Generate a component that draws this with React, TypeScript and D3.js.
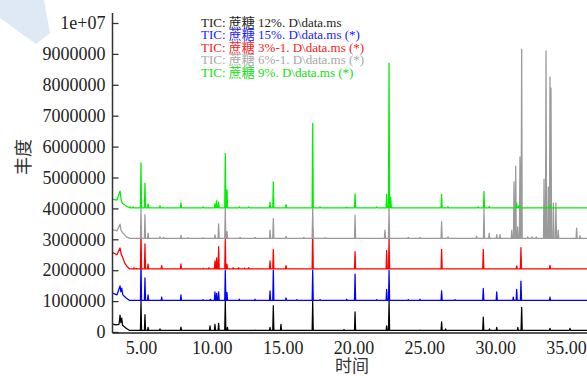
import { useEffect, useRef } from "react";
import * as d3 from "d3";

const width = 587;
const height = 376;

const seriesNames = [
  "TIC: 蔗糖 12%. D\\data.ms",
  "TIC: 蔗糖 15%. D\\data.ms (*)",
  "TIC: 蔗糖 3%-1. D\\data.ms (*)",
  "TIC: 蔗糖 6%-1. D\\data.ms (*)",
  "TIC: 蔗糖 9%. D\\data.ms (*)",
];
const traceColors = ["#000000", "#0000ff", "#ff0000", "#9a9a9a", "#00ee00"];
const legendColors = ["#222222", "#2020ff", "#ff2020", "#a8a8a8", "#10e010"];
const seriesOffsets = [0, 1000000, 2000000, 3000000, 4000000];
const seriesBase = [50000, 20000, 40000, 30000, 20000];

const yTicks = [0, 1000000, 2000000, 3000000, 4000000, 5000000, 6000000, 7000000, 8000000, 9000000, 10000000];
const yTickLabels = ["0", "1000000", "2000000", "3000000", "4000000", "5000000", "6000000", "7000000", "8000000", "9000000", "1e+07"];
const xTicks = [5, 10, 15, 20, 25, 30, 35];
const xTickLabels = ["5.00", "10.00", "15.00", "20.00", "25.00", "30.00", "35.00"];

// start of run drift, [time, abundance above the trace offset]
const blackStart = [[2.95, 260000], [3.2, 230000], [3.45, 250000], [3.52, 550000], [3.58, 300000], [3.64, 450000], [3.7, 220000], [3.95, 120000], [4.2, 50000]];
const blueStart = [[2.95, 270000], [3.3, 200000], [3.52, 490000], [3.58, 300000], [3.64, 420000], [3.72, 200000], [3.95, 100000], [4.2, 20000]];
const redStart = [[2.95, 590000], [3.3, 500000], [3.52, 720000], [3.6, 520000], [3.72, 400000], [3.85, 230000], [4.0, 130000], [4.2, 40000]];
const grayStart = [[2.95, 320000], [3.3, 270000], [3.52, 490000], [3.58, 300000], [3.72, 200000], [3.98, 80000], [4.2, 30000]];
const greenStart = [[2.95, 300000], [3.3, 270000], [3.52, 560000], [3.6, 280000], [3.68, 170000], [3.98, 70000], [4.2, 20000]];

// peaks, [retention time, abundance above the trace offset]
const blackPeaks = [
  [5.0, 1000000], [5.28, 560000], [5.5, 150000], [6.34, 100000], [7.82, 160000], [9.87, 200000],
  [10.22, 250000], [10.48, 280000], [10.95, 1000000], [11.1, 150000], [13.05, 60000], [14.11, 150000],
  [14.34, 850000], [14.88, 250000], [17.12, 1000000], [19.33, 80000], [20.11, 650000], [22.34, 200000],
  [22.51, 1000000], [24.7, 60000], [26.22, 330000], [26.5, 100000], [28.1, 50000], [29.16, 480000],
  [29.6, 100000], [30.11, 150000], [31.6, 150000], [31.87, 800000], [33.87, 120000], [35.28, 120000],
];
const bluePeaks = [
  [5.0, 1280000], [5.28, 750000], [5.5, 200000], [6.46, 130000], [7.82, 200000], [9.38, 50000],
  [9.9, 60000], [10.22, 300000], [10.34, 250000], [10.48, 300000], [10.95, 1000000], [11.07, 280000],
  [11.94, 60000], [13.05, 60000], [14.11, 330000], [14.34, 1000000], [15.24, 100000], [16.0, 50000],
  [17.12, 1000000], [17.64, 50000], [19.52, 60000], [20.11, 870000], [21.64, 50000], [22.34, 380000],
  [22.51, 1000000], [23.87, 50000], [24.69, 60000], [26.22, 330000], [27.16, 50000], [29.16, 410000],
  [30.11, 300000], [31.28, 130000], [31.52, 380000], [31.82, 650000], [33.87, 130000],
];
const redPeaks = [
  [4.5, 80000], [4.7, 60000], [5.0, 1300000], [5.28, 850000], [5.5, 200000], [6.46, 150000],
  [7.82, 200000], [9.4, 60000], [9.8, 80000], [10.22, 300000], [10.34, 400000], [10.48, 760000],
  [10.95, 1000000], [11.07, 200000], [11.5, 80000], [11.9, 80000], [12.3, 70000], [12.6, 80000],
  [14.11, 300000], [14.34, 670000], [15.24, 150000], [17.12, 1360000], [20.11, 600000], [22.34, 630000],
  [22.51, 1040000], [26.22, 670000], [29.16, 670000], [31.52, 140000], [31.82, 730000], [33.87, 160000],
];
const grayPeaks = [
  [5.0, 1000000], [5.28, 800000], [5.5, 200000], [6.34, 80000], [6.6, 60000], [7.82, 130000],
  [8.3, 50000], [9.4, 50000], [10.22, 140000], [10.48, 500000], [10.95, 1000000], [11.07, 250000],
  [12.0, 60000], [13.05, 60000], [14.11, 300000], [14.34, 670000], [15.24, 100000], [16.5, 60000],
  [17.12, 1000000], [18.0, 50000], [20.11, 780000], [22.22, 300000], [22.51, 1000000], [23.87, 60000],
  [24.69, 60000], [26.22, 570000], [26.67, 80000], [28.69, 100000], [29.21, 1000000], [29.58, 200000],
  [30.11, 150000], [30.34, 150000], [31.17, 300000], [31.33, 1860000], [31.45, 2370000], [31.59, 400000],
  [31.75, 2670000], [31.87, 6150000], [32.3, 80000], [32.6, 80000], [32.9, 80000], [33.45, 1950000],
  [33.59, 6100000], [33.75, 1700000], [33.87, 5260000], [33.94, 4890000], [34.11, 1170000], [34.29, 1180000],
  [34.45, 300000], [35.75, 360000], [35.99, 120000],
];
const greenPeaks = [
  [4.22, 50000], [4.44, 50000], [5.0, 1470000], [5.28, 820000], [5.5, 150000], [6.34, 80000],
  [7.82, 180000], [9.38, 50000], [10.22, 150000], [10.34, 250000], [10.48, 200000], [10.95, 1780000],
  [11.07, 600000], [11.94, 50000], [12.6, 50000], [14.11, 200000], [14.34, 860000], [15.24, 120000],
  [17.12, 2750000], [17.64, 50000], [19.52, 40000], [20.11, 470000], [21.64, 50000], [22.34, 450000],
  [22.51, 4700000], [22.63, 350000], [26.22, 450000], [26.67, 60000], [28.79, 50000], [29.21, 550000],
  [29.58, 60000], [31.52, 170000], [31.68, 100000], [33.87, 120000],
];

const starts = [blackStart, blueStart, redStart, grayStart, greenStart];
const peaks = [blackPeaks, bluePeaks, redPeaks, grayPeaks, greenPeaks];

const serif = "'Liberation Serif', 'Noto Sans CJK SC', serif";

const App = () => {
  const svgRef = useRef<SVGSVGElement | null>(null);

  useEffect(() => {
    const svg = d3.select(svgRef.current as SVGSVGElement);
    svg.selectAll("*").remove();

    const x = d3.scaleLinear().domain([5, 35]).range([141, 566]);
    const y = d3.scaleLinear().domain([0, 10000000]).range([332, 23]);
    const left = 112.5;
    const tEnd = x.invert(width + 2);

    // watermark
    svg
      .append("path")
      .attr("d", "M0,0 L44,0 L50,33 L36,44 L0,18 Z")
      .attr("fill", "#dfe9f6");

    svg
      .append("clipPath")
      .attr("id", "plot-clip")
      .append("rect")
      .attr("x", left)
      .attr("y", 0)
      .attr("width", width - left)
      .attr("height", 334);

    const line = d3
      .line<number[]>()
      .x((d) => x(d[0]))
      .y((d) => y(d[1]));

    const gTraces = svg.append("g").attr("clip-path", "url(#plot-clip)").attr("fill", "none");

    starts.forEach((start, i) => {
      const off = seriesOffsets[i];
      const base = seriesBase[i];
      const pts: number[][] = start.map((d) => [d[0], d[1] + off]);
      peaks[i].forEach(([t, h]) => {
        pts.push([t - 0.04, base + off], [t, h + off], [t + 0.04, base + off]);
      });
      pts.push([tEnd, base + off]);
      gTraces
        .append("path")
        .attr("d", line(pts))
        .attr("stroke", traceColors[i])
        .attr("stroke-width", 1.25)
        .attr("stroke-linejoin", "round");
    });

    // y axis
    const gy = svg
      .append("g")
      .attr("transform", `translate(${left},0)`)
      .call(
        d3
          .axisLeft(y)
          .tickValues(yTicks)
          .tickFormat((_, i) => yTickLabels[i])
          .tickSizeInner(-6)
          .tickSizeOuter(0)
          .tickPadding(7)
      );
    gy.select(".domain").remove();
    gy.selectAll(".tick line").attr("stroke", "#333").attr("stroke-width", 1.3);
    gy.selectAll(".tick text")
      .attr("font-family", serif)
      .attr("font-size", 18)
      .attr("fill", "#222");
    svg
      .append("line")
      .attr("x1", left)
      .attr("x2", left)
      .attr("y1", 13)
      .attr("y2", 333)
      .attr("stroke", "#333")
      .attr("stroke-width", 1.5);

    // x axis
    const gx = svg
      .append("g")
      .attr("transform", "translate(0,333)")
      .call(
        d3
          .axisBottom(x)
          .tickValues(xTicks)
          .tickFormat((_, i) => xTickLabels[i])
          .tickSize(0)
          .tickPadding(8)
      );
    gx.select(".domain").remove();
    gx.selectAll(".tick text")
      .attr("font-family", serif)
      .attr("font-size", 18)
      .attr("fill", "#222");
    svg
      .append("line")
      .attr("x1", left)
      .attr("x2", width)
      .attr("y1", 333)
      .attr("y2", 333)
      .attr("stroke", "#222")
      .attr("stroke-width", 1.3);

    svg
      .append("text")
      .attr("x", 352)
      .attr("y", 372)
      .attr("text-anchor", "middle")
      .attr("font-family", serif)
      .attr("font-size", 17)
      .attr("fill", "#333")
      .text("时间");

    svg
      .append("text")
      .attr("transform", "translate(30,157) rotate(-90)")
      .attr("text-anchor", "middle")
      .attr("font-family", serif)
      .attr("font-size", 18)
      .attr("fill", "#333")
      .text("丰度");

    // legend
    svg
      .append("g")
      .selectAll("text")
      .data(seriesNames)
      .join("text")
      .attr("x", 201)
      .attr("y", (_, i) => 27 + i * 12.4)
      .attr("font-family", serif)
      .attr("font-size", 13)
      .attr("fill", (_, i) => legendColors[i])
      .text((d) => d);
  }, []);

  return (
    <svg
      ref={svgRef}
      width={width}
      height={height}
      style={{ position: "absolute", left: 0, top: 0, background: "#fff" }}
    />
  );
};

export default App;
